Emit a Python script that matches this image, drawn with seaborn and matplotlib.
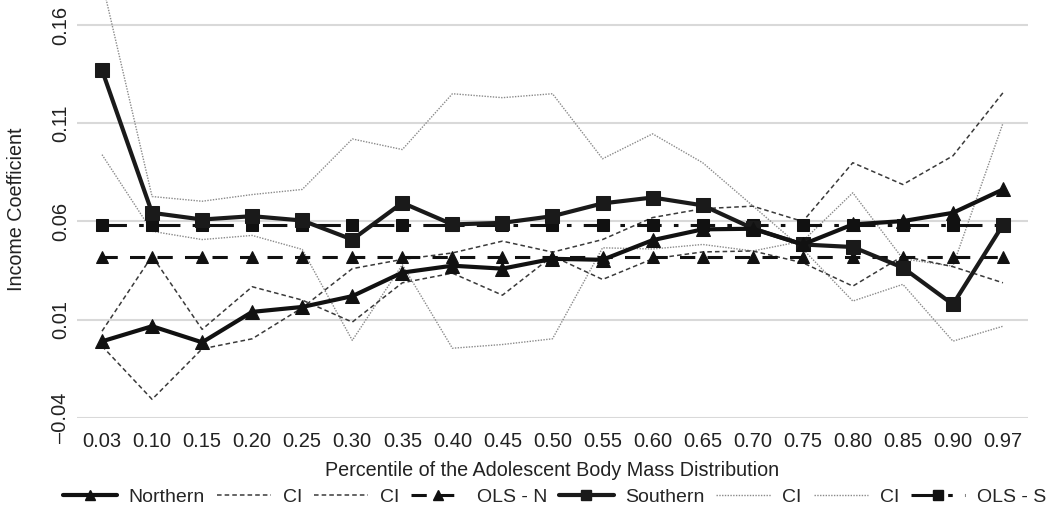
import matplotlib
matplotlib.use("Agg")
import matplotlib.pyplot as plt
import seaborn as sns
import pandas as pd
from matplotlib.lines import Line2D

# ---------------- data ----------------
categories = ['0.03', '0.10', '0.15', '0.20', '0.25', '0.30', '0.35', '0.40', '0.45', '0.50',
              '0.55', '0.60', '0.65', '0.70', '0.75', '0.80', '0.85', '0.90', '0.97']

northern = [-0.001, 0.0067, -0.0015, 0.014, 0.0165, 0.022, 0.034, 0.0375, 0.036, 0.041,
            0.0405, 0.0505, 0.056, 0.0563, 0.0483, 0.0585, 0.0602, 0.0644, 0.0763]
northern_ci_a = [0.0042, 0.0424, 0.0051, 0.0268, 0.0200, 0.0088, 0.0288, 0.0337, 0.0225, 0.0424,
                 0.0305, 0.041, 0.0445, 0.045, 0.039, 0.0271, 0.0424, 0.037, 0.0288]
northern_ci_b = [-0.0034, -0.0305, -0.0048, 0.0003, 0.0161, 0.036, 0.0407, 0.044, 0.050, 0.0444,
                 0.0508, 0.062, 0.0665, 0.0678, 0.060, 0.0899, 0.0788, 0.0934, 0.1255]
ols_n = [0.042, 0.042, 0.042, 0.042, 0.042, 0.042, 0.042, 0.042, 0.042, 0.042,
         0.042, 0.042, 0.042, 0.042, 0.042, 0.042, 0.042, 0.042, 0.042]

southern = [0.137, 0.0644, 0.061, 0.0627, 0.0605, 0.0508, 0.0695, 0.0585, 0.0593, 0.0627,
            0.0692, 0.0722, 0.0682, 0.0565, 0.0483, 0.0470, 0.0365, 0.0178, 0.0583]
southern_ci_a = [0.182, 0.0727, 0.0703, 0.0737, 0.0763, 0.102, 0.0966, 0.125, 0.123, 0.125,
                 0.0919, 0.1046, 0.0899, 0.068, 0.046, 0.0195, 0.028, -0.0009, 0.0067]
southern_ci_b = [0.094, 0.055, 0.0508, 0.0529, 0.0458, -0.0005, 0.038, -0.0045, -0.0026, 0.0003,
                 0.0466, 0.046, 0.0483, 0.045, 0.050, 0.0746, 0.041, 0.0373, 0.110]
ols_s = [0.0583, 0.0583, 0.0583, 0.0583, 0.0583, 0.0583, 0.0583, 0.0583, 0.0583, 0.0583,
         0.0583, 0.0583, 0.0583, 0.0583, 0.0583, 0.0583, 0.0583, 0.0583, 0.0583]

y_ticks = [-0.04, 0.01, 0.06, 0.11, 0.16]
y_tick_labels = ['\u20130.04', '0.01', '0.06', '0.11', '0.16']

# ---------------- style ----------------
sns.set_theme(style="white")
plt.rcParams['font.family'] = ['Liberation Sans', 'DejaVu Sans']

fig = plt.figure(figsize=(10.5, 5.2), dpi=100)
ax = fig.add_axes([77 / 1050, 1 - 418 / 520, (1028 - 77) / 1050, 418 / 520])

df = pd.DataFrame({
    'pct': categories,
    'northern': northern, 'n_ci_a': northern_ci_a, 'n_ci_b': northern_ci_b, 'ols_n': ols_n,
    'southern': southern, 's_ci_a': southern_ci_a, 's_ci_b': southern_ci_b, 'ols_s': ols_s,
})

series = [
    ('s_ci_a', 'CI', dict(color='#8a8a8a', lw=1.0, linestyle=(0, (1, 1)), zorder=2)),
    ('s_ci_b', 'CI', dict(color='#8a8a8a', lw=1.0, linestyle=(0, (1, 1)), zorder=2)),
    ('n_ci_a', 'CI', dict(color='#3a3a3a', lw=1.1, linestyle=(0, (3, 2)), zorder=3)),
    ('n_ci_b', 'CI', dict(color='#3a3a3a', lw=1.1, linestyle=(0, (3, 2)), zorder=3)),
    ('ols_n', 'OLS - N', dict(color='#111111', lw=2.2, linestyle=(0, (5, 4)), marker='^',
                              markersize=9, zorder=4)),
    ('ols_s', 'OLS - S', dict(color='#111111', lw=2.2, linestyle=(0, (8, 4, 1.5, 4)), marker='s',
                              markersize=9, zorder=4)),
    ('southern', 'Southern', dict(color='#1a1a1a', lw=3.0, marker='s', markersize=9.5, zorder=5)),
    ('northern', 'Northern', dict(color='#111111', lw=3.0, marker='^', markersize=9.5, zorder=6)),
]

for col, lab, kw in series:
    sns.lineplot(data=df, x='pct', y=col, ax=ax, sort=False, legend=False,
                 markeredgecolor=kw.get('color'), **kw)

ax.set_xlim(-0.5, len(categories) - 0.5)
ax.set_ylim(-0.04, 0.1727)
ax.set_yticks(y_ticks)
ax.set_yticklabels(y_tick_labels, rotation=90, va='center', fontsize=14.5, color='#222222')
ax.set_xticks(range(len(categories)))
ax.set_xticklabels(categories, fontsize=14.5, color='#222222')
ax.tick_params(axis='both', length=0)
ax.tick_params(axis='x', pad=10)
ax.tick_params(axis='y', pad=5)
ax.grid(axis='y', color='#d9d9d9', lw=1.5, zorder=0)
ax.grid(axis='x', visible=False)
ax.set_axisbelow(True)
for s in ax.spines.values():
    s.set_visible(False)
ax.set_xlabel('Percentile of the Adolescent Body Mass Distribution', fontsize=14.2,
              color='#222222', labelpad=7)
ax.set_ylabel('Income Coefficient', fontsize=14.2, color='#222222', labelpad=18)

# legend
order = [('Northern', 'northern'), ('CI', 'n_ci_a'), ('CI', 'n_ci_b'), ('OLS - N', 'ols_n'),
         ('Southern', 'southern'), ('CI', 's_ci_a'), ('CI', 's_ci_b'), ('OLS - S', 'ols_s')]
col_kw = {col: kw for col, lab, kw in series}
handles = []
labels = []
for lab, col in order:
    kw = dict(col_kw[col])
    kw.pop('zorder', None)
    if 'markersize' in kw:
        kw['markersize'] = 7.5
    handles.append(Line2D([], [], markeredgecolor=kw.get('color'), **kw))
    labels.append(lab)
fig.legend(handles, labels, loc='center', bbox_to_anchor=(0.528, 0.044), ncol=8,
           frameon=False, fontsize=14, handlelength=2.8, handletextpad=0.6,
           columnspacing=0.6, borderpad=0.2, borderaxespad=0.1)

fig.savefig('out.png', dpi=100)
